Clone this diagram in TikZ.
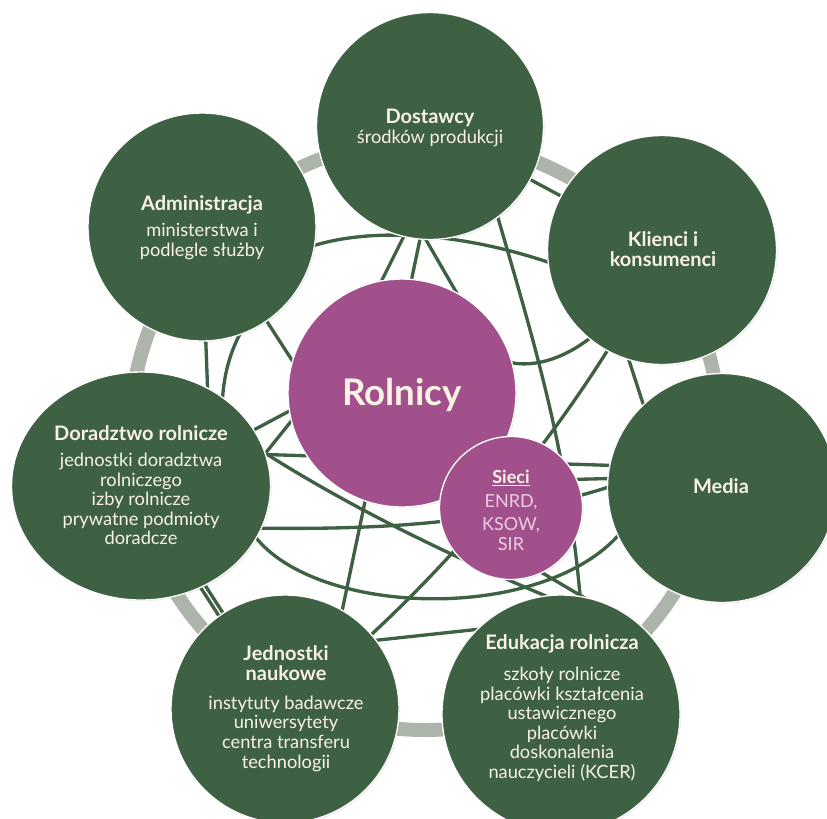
\documentclass[tikz,border=0pt]{standalone}
\usepackage{fontspec}
\setmainfont{Lato}
\usetikzlibrary{calc,shapes.geometric,backgrounds,shadows}
\definecolor{gr}{RGB}{62,96,67}
\definecolor{pu}{RGB}{162,80,139}
\definecolor{rg}{RGB}{172,180,172}
\definecolor{cr}{RGB}{250,243,228}
\definecolor{pk}{RGB}{236,205,226}
\tikzset{
  gc/.style={circle, fill=gr, draw=white, line width=1pt, inner sep=0pt,
    drop shadow={opacity=0.22, shadow xshift=0.8pt, shadow yshift=-0.8pt}},
  pc/.style={circle, fill=pu, draw=white, line width=1pt, inner sep=0pt,
    drop shadow={opacity=0.22, shadow xshift=0.8pt, shadow yshift=-0.8pt}},
  ttl/.style={anchor=base, inner sep=0pt, text=cr, font=\fontsize{15}{18}\selectfont\bfseries},
  sub/.style={anchor=base, inner sep=0pt, text=cr, font=\fontsize{13.7}{16}\selectfont},
  lk/.style={draw=gr, line width=2.5pt},
  ringline/.style={draw=rg, line width=10.5pt}
}
\begin{document}
\begin{tikzpicture}[x=0.75pt, y=-0.75pt]
\useasboundingbox (0,0) rectangle (827,818);
% circles
\node[gc, minimum size=170.25pt] (D) at (430,126) {};
\node[gc, minimum size=171pt] (A) at (202,227) {};
\node[gc, minimum size=171.75pt] (K) at (662,250) {};
\node[gc, minimum size=171.75pt] (M) at (722,488) {};
\node[gc, minimum size=178.5pt] (E) at (561,714) {};
\node[gc, minimum size=171pt] (J) at (285,709) {};
\node[gc, ellipse, minimum width=194.25pt, minimum height=171pt] (R) at (141,486) {};
\node[pc, minimum size=171pt] (F) at (402,393) {};
\node[pc, minimum size=107.25pt] (S) at (511,508) {};
\coordinate (rc) at (425,435);
% texts
\node[ttl] (Dt1) at (430,123) {Dostawcy};
\node[sub] (Dt2) at (430,143) {środków produkcji};
\node[ttl] (At1) at (202,210) {Administracja};
\node[sub] (At2) at (202,236.7) {ministerstwa i};
\node[sub] (At3) at (202,256.7) {podlegle służby};
\node[ttl] (Kt1) at (663,246) {Klienci i};
\node[ttl] (Kt2) at (663,266.7) {konsumenci};
\node[ttl] (Mt1) at (721,493.3) {Media};
\node[ttl] (Rt1) at (141,440) {Doradztwo rolnicze};
\node[sub] (Rt2) at (141,466.7) {jednostki doradztwa};
\node[sub] (Rt3) at (141,486) {rolniczego};
\node[sub] (Rt4) at (141,505.7) {izby rolnicze};
\node[sub] (Rt5) at (141,525) {prywatne podmioty};
\node[sub] (Rt6) at (141,544) {doradcze};
\node[ttl] (Jt1) at (286,660) {Jednostki};
\node[ttl] (Jt2) at (286,680.7) {naukowe};
\node[sub] (Jt3) at (286,709.3) {instytuty badawcze};
\node[sub] (Jt4) at (286,728.3) {uniwersytety};
\node[sub] (Jt5) at (286,748.3) {centra transferu};
\node[sub] (Jt6) at (286,768.3) {technologii};
\node[ttl] (Et1) at (562,649.3) {Edukacja rolnicza};
\node[sub] (Et2) at (562,680.7) {szkoły rolnicze};
\node[sub] (Et3) at (562,700) {placówki kształcenia};
\node[sub] (Et4) at (562,719.3) {ustawicznego};
\node[sub] (Et5) at (562,739.3) {placówki};
\node[sub] (Et6) at (562,758.3) {doskonalenia};
\node[sub] (Et7) at (562,778.3) {nauczycieli (KCER)};
\node[ttl, font=\fontsize{27.5}{32}\selectfont\bfseries] (Ft1) at (402,405) {Rolnicy};
\node[ttl, font=\fontsize{13.5}{16}\selectfont\bfseries] (St1) at (511,483.3) {\underline{Sieci}};
\node[sub, text=pk, font=\fontsize{13.5}{16}\selectfont] (St2) at (511,507.3) {ENRD,};
\node[sub, text=pk, font=\fontsize{13.5}{16}\selectfont] (St3) at (511,530) {KSOW,};
\node[sub, text=pk, font=\fontsize{13.5}{16}\selectfont] (St4) at (511,550) {SIR};
\begin{pgfonlayer}{background}
\draw[ringline] (rc) circle[radius=295];
% connectors
\draw[lk] (D) -- (K);
\draw[lk] ($(A)+(88,28)$) .. controls ($(A)+(148,-2)$) and ($(K)+(-202,-22)$) .. ($(K)+(-92,20)$);
\draw[lk] ($(D)+(-15,88)$) -- ($(F)+(-32,-89)$);
\draw[lk] ($(D)+(-6,94)$) -- ($(J)+(51,-69)$);
\draw[lk] ($(D)+(-12,100)$) -- ($(F)+(68,-77)$);
\draw[lk] ($(D)+(60,64)$) .. controls ($(D)+(100,204)$) and ($(E)+(9,-264)$) .. ($(E)+(21,-94)$);
\draw[lk] ($(F)+(88,-38)$) .. controls ($(F)+(118,-21)$) and ($(K)+(-102,115)$) .. ($(K)+(-62,80)$);
\draw[lk] ($(K)+(-42,80)$) .. controls ($(K)+(-102,180)$) and ($(J)+(185,-164)$) .. ($(J)+(75,-64)$);
\draw[lk] ($(K)+(-38,95)$) -- ($(M)+(-72,-63)$);
\draw[lk] ($(R)+(94,-46)$) -- ($(F)+(-92,7)$);
\draw[lk] ($(R)+(119,-26)$) -- ($(F)+(-97,11)$);
\draw[lk] ($(R)+(109,-32)$) -- ($(M)+(-92,-22)$);
\draw[lk] ($(R)+(104,-46)$) .. controls ($(R)+(209,24)$) and ($(E)+(-81,-144)$) .. ($(E)+(24,-102)$);
\draw[lk] ($(R)+(109,42)$) .. controls ($(R)+(239,44)$) and ($(M)+(-222,37)$) .. ($(M)+(-92,-8)$);
\draw[lk] ($(R)+(104,34)$) .. controls ($(R)+(149,134)$) and ($(M)+(-162,142)$) .. ($(M)+(-92,32)$);
\draw[lk] (R) -- (J);
\draw[lk] ($(R)+(-4,3)$) -- ($(J)+(-4,3)$);
\draw[lk] ($(A)+(3,93)$) -- ($(R)+(67,-86)$);
\draw[lk] ($(A)+(45,95)$) .. controls ($(A)+(30,118)$) and ($(R)+(80,-111)$) .. ($(R)+(81,-66)$);
\draw[lk] ($(A)+(53,76)$) -- ($(F)+(-92,-5)$);
\draw[lk] ($(J)+(75,-67)$) -- ($(E)+(-71,-86)$);
\draw[lk] ($(S)+(-21,34)$) -- ($(E)+(39,-107)$);
\draw[lk] ($(S)+(40,-28)$) -- ($(M)+(-92,-10)$);
\end{pgfonlayer}
\end{tikzpicture}
\end{document}
